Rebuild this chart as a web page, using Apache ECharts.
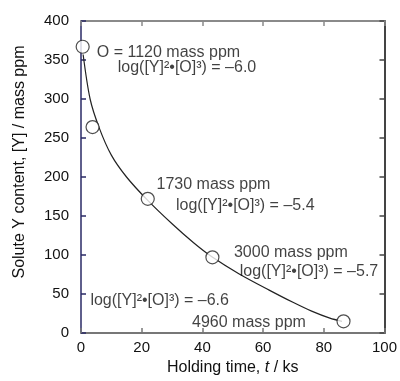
<!DOCTYPE html>
<html>
<head>
<meta charset="utf-8">
<script src="https://cdn.jsdelivr.net/npm/echarts@6/dist/echarts.min.js"></script>
<style>
  html, body {margin: 0; padding: 0; background: #fff;}
  #chart {width: 400px; height: 381px;}
</style>
</head>
<body>
<div id="chart"></div>
<script>
// fitted curve
const curveT = [0.7, 3, 6, 10, 15, 22, 30, 37, 43, 52, 62, 70, 76, 82, 86];
const curveY = [357, 300, 263, 228, 200, 170, 140, 116, 98, 76, 55, 39, 28, 19, 15];

// measured points
const pointT = [0.55, 3.8, 22, 43.3, 86.5];
const pointY = [367, 264, 172, 97, 15];

// annotations (left edge, vertical middle, in data units)
const noteText = [
  'O = 1120 mass ppm',
  'log([Y]²•[O]³) = –6.0',
  '1730 mass ppm',
  'log([Y]²•[O]³) = –5.4',
  '3000 mass ppm',
  'log([Y]²•[O]³) = –5.7',
  'log([Y]²•[O]³) = –6.6',
  '4960 mass ppm'
];
const noteT = [5.2, 12.1, 24.9, 31.3, 50.4, 52.3, 3.1, 36.6];
const noteY = [360, 340, 190, 163, 103, 79, 41, 13.5];

const xTicks = [0, 20, 40, 60, 80, 100];
const yTicks = [0, 50, 100, 150, 200, 250, 300, 350, 400];

const font = '"Liberation Sans", Arial, sans-serif';
const chart = echarts.init(document.getElementById('chart'));

const zip = (a, b) => a.map((v, i) => [v, b[i]]);

const axisBase = (color, width) => ({
  axisLine: {show: true, onZero: false, lineStyle: {color, width}},
  axisTick: {show: true, inside: true, length: 5, lineStyle: {color, width: 1.5}},
  splitLine: {show: false},
});

chart.setOption({
  animation: false,
  grid: {left: 81, right: 13, top: 21, bottom: 43},
  xAxis: [{
    type: 'value', min: 0, max: 100, interval: 20, position: 'bottom',
    ...axisBase('#777', 2),
    axisLabel: {margin: 7, color: '#111', fontSize: 15, fontFamily: font,
      formatter: v => xTicks.includes(v) ? String(v) : ''},
    name: '{a|Holding time, }{i|t}{a| / ks}',
    nameLocation: 'middle', nameGap: 27,
    nameTextStyle: {rich: {
      a: {fontSize: 16, fontFamily: font, color: '#111'},
      i: {fontSize: 16, fontFamily: font, color: '#111', fontStyle: 'italic'}
    }}
  }, {
    type: 'value', min: 0, max: 100, interval: 20, position: 'top',
    ...axisBase('#8a8a8a', 2),
    axisLabel: {show: false}
  }],
  yAxis: [{
    type: 'value', min: 0, max: 400, interval: 50, position: 'left',
    ...axisBase('#2a2a66', 1.5),
    axisLabel: {margin: 12, color: '#111', fontSize: 15, fontFamily: font,
      formatter: v => yTicks.includes(v) ? String(v) : ''}
  }, {
    type: 'value', min: 0, max: 400, interval: 50, position: 'right',
    ...axisBase('#444', 2),
    axisLabel: {show: false}
  }],
  graphic: [{
    type: 'text', x: 20, y: 162, rotation: Math.PI / 2,
    style: {
      text: 'Solute Y content, [Y] / mass ppm',
      fill: '#111', font: '16px ' + font,
      align: 'center', verticalAlign: 'middle'
    }
  }],
  series: [{
    type: 'line',
    data: zip(curveT, curveY),
    smooth: 0.3,
    symbol: 'none',
    lineStyle: {color: '#222', width: 1.2},
    z: 2
  }, {
    type: 'scatter',
    data: zip(pointT, pointY),
    symbol: 'circle',
    symbolSize: 13,
    clip: false,
    itemStyle: {color: '#fff', borderColor: '#222', borderWidth: 1.2},
    z: 3
  }, {
    type: 'scatter',
    data: noteT.map((t, i) => ({value: [t, noteY[i]], name: noteText[i]})),
    symbolSize: 0,
    silent: true,
    label: {
      show: true, position: 'right', distance: 0,
      formatter: p => p.name,
      color: '#111', fontSize: 16, fontFamily: font
    },
    z: 4
  }]
});
</script>
</body>
</html>
